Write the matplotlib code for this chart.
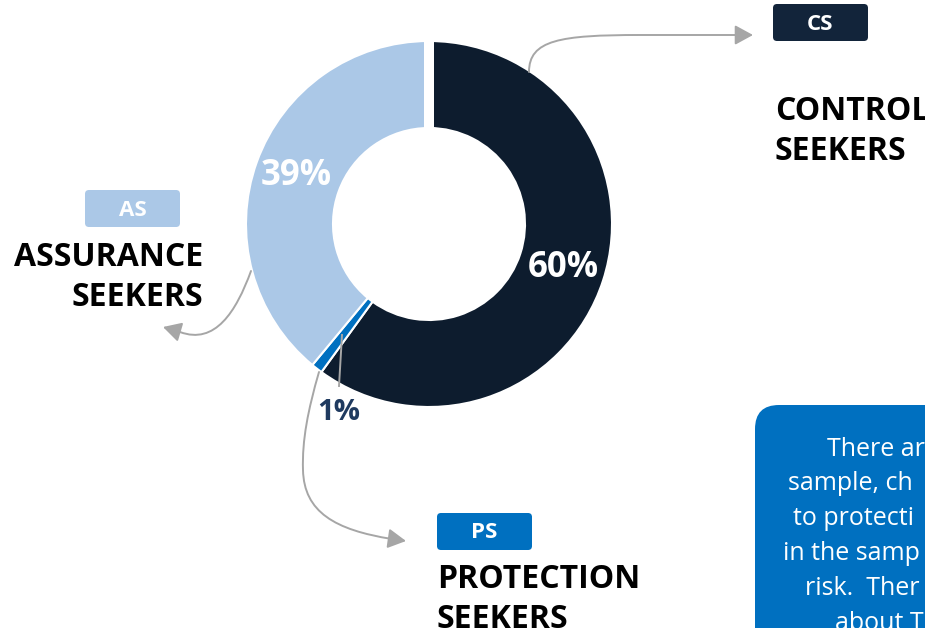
import matplotlib
matplotlib.use('Agg')
import matplotlib.pyplot as plt
from matplotlib.path import Path
from matplotlib.patches import FancyArrowPatch, FancyBboxPatch

# data
segments = ['Control Seekers', 'Protection Seekers', 'Assurance Seekers']
shares = [60, 1, 39]
seg_colors = ['#0d1c2e', '#0070c0', '#abc8e7']
codes_txt = ['CS', 'PS', 'AS']
box_colors = ['#12243a', '#0070c0', '#abc8e7']
names = [['CONTROL', 'SEEKERS'], ['PROTECTION', 'SEEKERS'], ['ASSURANCE', 'SEEKERS']]
note_lines = ['There ar', 'sample, ch', 'to protecti', 'in the samp', 'risk.  Ther', 'about T']

plt.rcParams['font.family'] = ['Open Sans', 'DejaVu Sans']

W, H = 925, 628
fig = plt.figure(figsize=(W / 100, H / 100), dpi=100)
ax = fig.add_axes([0, 0, 1, 1])

cx, cy = 429, 224
r_out, r_in = 183, 96
grey = '#a6a6a6'

def pct_fmt(p):
    return '%d%%' % round(p)

# y axis is flipped below, so 270 deg is the top and ccw looks clockwise
wedges, _, pcts = ax.pie(shares, colors=seg_colors, startangle=270, counterclock=True,
                         radius=r_out, center=(cx, cy), autopct=pct_fmt,
                         pctdistance=0.77,
                         wedgeprops=dict(width=r_out - r_in, edgecolor='white', linewidth=1.5),
                         textprops=dict(color='white', fontsize=25, fontweight='bold'))
# gap at 12 o'clock
ax.plot([cx, cx], [cy - r_in + 2, cy - r_out - 3], color='white', lw=7.2, solid_capstyle='butt', zorder=3)

# small share label sits outside the ring
pcts[1].set_position((339, 412))
pcts[1].set_color('#1f3a5f')
pcts[1].set_fontsize(21)

ax.set_xlim(0, W)
ax.set_ylim(H, 0)
ax.axis('off')

# leader lines
def arrow(verts, codes):
    p = FancyArrowPatch(path=Path(verts, codes), arrowstyle='-|>,head_length=0.55,head_width=0.3',
                        mutation_scale=20, color=grey, lw=1.4, zorder=4)
    ax.add_patch(p)

C4, L2, M = Path.CURVE4, Path.LINETO, Path.MOVETO
arrow([(529, 72), (529, 40), (560, 35), (640, 35), (753, 35)], [M, C4, C4, C4, L2])
arrow([(251, 271), (236, 312), (215, 345), (180, 332), (163, 327)], [M, C4, C4, C4, L2])
arrow([(319, 372), (308, 410), (302, 440), (303, 470),
       (304, 512), (335, 530), (392, 539), (406, 541)],
      [M, C4, C4, C4, C4, C4, C4, L2])
ax.plot([342, 339], [335, 386], color=grey, lw=1.4, zorder=4)

# category tags
def tag(x0, y0, txt, col):
    ax.add_patch(FancyBboxPatch((x0, y0), 95, 37, boxstyle='round,pad=0,rounding_size=4',
                                fc=col, ec='none', zorder=2))
    ax.text(x0 + 47.5, y0 + 20, txt, color='white', fontsize=16, fontweight='bold',
            ha='center', va='center', zorder=3)

tag(773, 4, codes_txt[0], box_colors[0])
tag(437, 513, codes_txt[1], box_colors[1])
tag(85, 190, codes_txt[2], box_colors[2])

def name(x, y, lines, ha):
    for i, s in enumerate(lines):
        ax.text(x, y + i * 40, s, color='black', fontsize=23, fontweight='bold',
                ha=ha, va='center')

name(775, 111, names[0], 'left')
name(437, 579, names[1], 'left')
name(203, 258, names[2], 'right')

# note box (runs off the slide)
ax.add_patch(FancyBboxPatch((755, 405), 320, 320, boxstyle='round,pad=0,rounding_size=24',
                            fc='#0070c0', ec='none', zorder=2))
note_x = [827, 788, 793, 783, 805, 835]
for i, s in enumerate(note_lines):
    ax.text(note_x[i], 449 + i * 34.8, s, color='white', fontsize=18, ha='left', va='center',
            zorder=3)

fig.savefig('out.png', dpi=100)
